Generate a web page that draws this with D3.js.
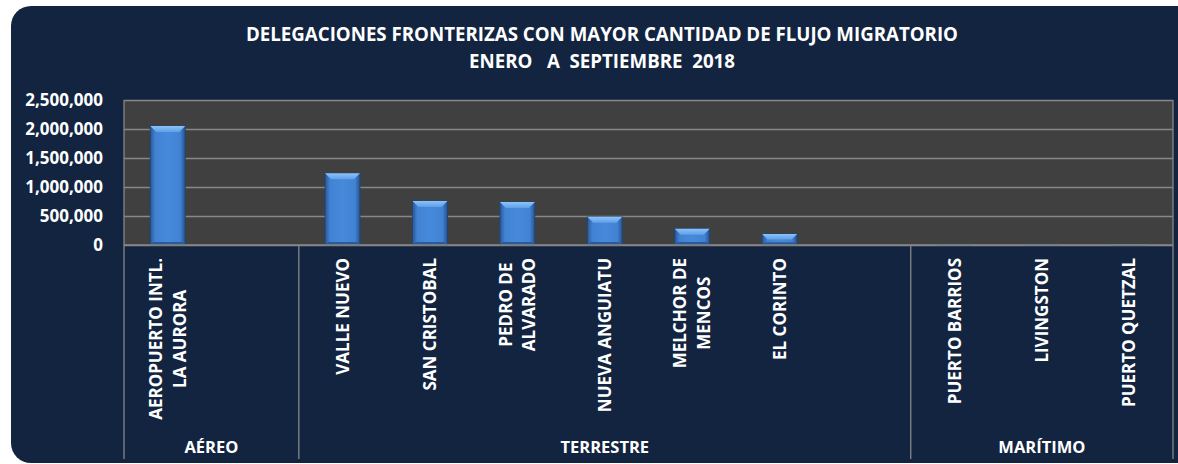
<!DOCTYPE html>
<html>
<head>
<meta charset="utf-8">
<script src="https://cdn.jsdelivr.net/npm/d3@7"></script>
<style>
  html, body { margin: 0; padding: 0; background: #ffffff; }
  svg { display: block; font-family: "Open Sans", "DejaVu Sans", sans-serif; }
</style>
</head>
<body>
<svg id="chart"></svg>
<script>
// data
const titleLines = ["DELEGACIONES FRONTERIZAS CON MAYOR CANTIDAD DE FLUJO MIGRATORIO", "ENERO   A  SEPTIEMBRE  2018"];
const groups = ["AÉREO", "TERRESTRE", "MARÍTIMO"];
const categories = ["AEROPUERTO INTL.|LA AURORA", "", "VALLE NUEVO", "SAN CRISTOBAL", "PEDRO DE|ALVARADO",
  "NUEVA ANGUIATU", "MELCHOR DE|MENCOS", "EL CORINTO", "", "PUERTO BARRIOS", "LIVINGSTON", "PUERTO QUETZAL"];
const categoryGroup = [0, 0, 1, 1, 1, 1, 1, 1, 1, 2, 2, 2];
const flujo = [2050000, null, 1235000, 760000, 740000, 485000, 280000, 190000, null, 9000, 7000, 4000];
const yTicks = [0, 500000, 1000000, 1500000, 2000000, 2500000];

const W = 1178, H = 464;
const plot = { left: 124, right: 1173, top: 100, bottom: 245 };

const svg = d3.select("#chart").attr("width", W).attr("height", H);

// gradients for the bevelled bars
const defs = svg.append("defs");
const body = defs.append("linearGradient").attr("id", "barBody").attr("x1", 0).attr("x2", 1).attr("y1", 0).attr("y2", 0);
body.append("stop").attr("offset", 0).attr("stop-color", "#2a5797");
body.append("stop").attr("offset", 0.14).attr("stop-color", "#4182d3");
body.append("stop").attr("offset", 0.5).attr("stop-color", "#4789da");
body.append("stop").attr("offset", 0.86).attr("stop-color", "#4182d3");
body.append("stop").attr("offset", 1).attr("stop-color", "#28518c");
const topG = defs.append("linearGradient").attr("id", "barTop").attr("x1", 0).attr("x2", 0).attr("y1", 0).attr("y2", 1);
topG.append("stop").attr("offset", 0).attr("stop-color", "#8cc3f8");
topG.append("stop").attr("offset", 1).attr("stop-color", "#5d9fe8");

// background panel (runs off the right edge)
svg.append("rect")
  .attr("x", 11).attr("y", 6)
  .attr("width", W + 30).attr("height", 457)
  .attr("rx", 20)
  .attr("fill", "#12243f");

// title
svg.append("g").selectAll("text")
  .data(titleLines)
  .join("text")
  .attr("x", 602)
  .attr("y", (d, i) => 41 + i * 27)
  .attr("text-anchor", "middle")
  .attr("fill", "#ffffff")
  .attr("font-size", 18.7)
  .attr("font-weight", 700)
  .style("white-space", "pre")
  .text(d => d);

// scales
const x = d3.scaleBand().domain(d3.range(categories.length)).range([plot.left, plot.right]).padding(0);
const y = d3.scaleLinear().domain([0, 2500000]).range([plot.bottom, plot.top]);

// plot area
svg.append("rect")
  .attr("x", plot.left).attr("y", plot.top)
  .attr("width", plot.right - plot.left).attr("height", plot.bottom - plot.top)
  .attr("fill", "#404040");

// gridlines
svg.append("g")
  .attr("transform", `translate(${plot.left},0)`)
  .call(d3.axisLeft(y).tickValues(yTicks).tickSize(-(plot.right - plot.left)).tickFormat(""))
  .call(g => g.select(".domain").remove())
  .call(g => g.selectAll("line").attr("stroke", "#878787").attr("stroke-width", 1.3));

// plot border sides
svg.append("g").selectAll("line")
  .data([plot.left, plot.right])
  .join("line")
  .attr("x1", d => d).attr("x2", d => d)
  .attr("y1", plot.top).attr("y2", plot.bottom)
  .attr("stroke", "#878787").attr("stroke-width", 1.3);

// y axis labels
svg.append("g")
  .attr("transform", `translate(${plot.left},0)`)
  .call(d3.axisLeft(y).tickValues(yTicks).tickSize(0).tickPadding(21).tickFormat(d3.format(",")))
  .call(g => g.select(".domain").remove())
  .call(g => g.selectAll("text")
    .attr("fill", "#ffffff")
    .attr("font-size", 17)
    .attr("font-weight", 700)
    .attr("font-family", "'Open Sans', sans-serif"));

// bars
const barW = x.bandwidth() * 0.4;
const bars = svg.append("g").selectAll("g")
  .data(flujo.map((v, i) => ({ v, i })).filter(d => d.v != null))
  .join("g");

bars.each(function (d) {
  const g = d3.select(this);
  const bx = x(d.i) + (x.bandwidth() - barW) / 2;
  const by = y(d.v);
  const h = y(0) - by;
  const b = Math.min(6, h / 2);
  g.append("rect")
    .attr("x", bx).attr("y", by).attr("width", barW).attr("height", h)
    .attr("fill", "url(#barBody)")
    .attr("stroke", "#1d4478").attr("stroke-width", 0.8);
  g.append("polygon")
    .attr("points", [[bx, by], [bx + barW, by], [bx + barW - b, by + b], [bx + b, by + b]].join(" "))
    .attr("fill", "url(#barTop)");
  g.append("polygon")
    .attr("points", [[bx, by + h], [bx + barW, by + h], [bx + barW - b * 0.5, by + h - b * 0.5], [bx + b * 0.5, by + h - b * 0.5]].join(" "))
    .attr("fill", "#2c5a98");
});

// category axis: group dividers
const groupSpans = groups.map((name, gi) => {
  const idx = categoryGroup.map((c, i) => c === gi ? i : -1).filter(i => i >= 0);
  return { name, x0: x(idx[0]), x1: x(idx[idx.length - 1]) + x.bandwidth() };
});
const dividerX = [groupSpans[0].x0].concat(groupSpans.map(s => s.x1));

svg.append("g").selectAll("line")
  .data(dividerX)
  .join("line")
  .attr("x1", d => d).attr("x2", d => d)
  .attr("y1", plot.bottom).attr("y2", 459)
  .attr("stroke", "#878787").attr("stroke-width", 1.3);

svg.append("line")
  .attr("x1", plot.left).attr("x2", plot.right)
  .attr("y1", plot.bottom).attr("y2", plot.bottom)
  .attr("stroke", "#878787").attr("stroke-width", 1.3);

// category labels, rotated, right-aligned at the top
const labelTop = 258, lineGap = 24;
const catLabels = svg.append("g").selectAll("g")
  .data(categories.map((c, i) => ({ lines: c ? c.split("|") : [], i })))
  .join("g")
  .attr("transform", d => `translate(${x(d.i) + x.bandwidth() / 2},${labelTop}) rotate(-90)`);

catLabels.each(function (d) {
  const g = d3.select(this);
  const n = d.lines.length;
  const texts = g.selectAll("text")
    .data(d.lines)
    .join("text")
    .attr("fill", "#ffffff")
    .attr("font-size", 17)
    .attr("font-weight", 700)
    .attr("text-anchor", "middle")
    .attr("y", (t, k) => (k - (n - 1) / 2) * lineGap)
    .attr("dy", "0.36em")
    .text(t => t);
  let maxW = 0;
  texts.each(function () { maxW = Math.max(maxW, this.getComputedTextLength()); });
  texts.attr("x", -maxW / 2);
});

// group labels
svg.append("g").selectAll("text")
  .data(groupSpans)
  .join("text")
  .attr("x", d => (d.x0 + d.x1) / 2)
  .attr("y", 453)
  .attr("text-anchor", "middle")
  .attr("fill", "#ffffff")
  .attr("font-size", 16.5)
  .attr("font-weight", 700)
  .text(d => d.name);
</script>
</body>
</html>
